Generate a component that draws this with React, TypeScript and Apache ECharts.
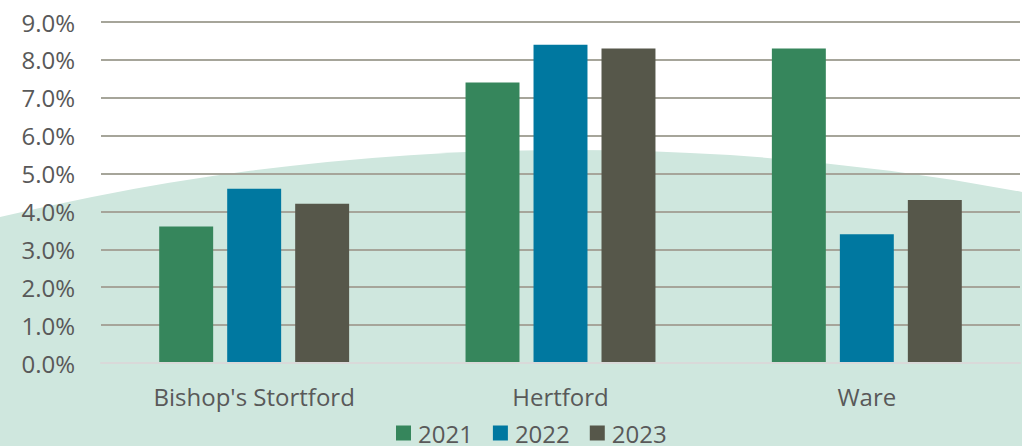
import React, { useEffect, useRef } from "react";
import * as echarts from "echarts";

const categories = ["Bishop's Stortford", "Hertford", "Ware"];
const seriesNames = ["2021", "2022", "2023"];
const values2021 = [3.6, 7.4, 8.3];
const values2022 = [4.6, 8.4, 3.4];
const values2023 = [4.2, 8.3, 4.3];
const colors = ["#36865c", "#0078a0", "#56574a"];

export default function App() {
  const ref = useRef<HTMLDivElement>(null);
  useEffect(() => {
    document.body.style.margin = "0";
    const chart = echarts.init(ref.current!, null, { renderer: "svg" });
    const data = [values2021, values2022, values2023];
    chart.setOption({
      animation: false,
      backgroundColor: "#ffffff",
      textStyle: { fontFamily: "Open Sans" },
      graphic: [
        {
          type: "circle",
          z: -10,
          silent: true,
          shape: { cx: 570, cy: 2600, r: 2450 },
          style: { fill: "#cfe7de" },
        },
      ],
      grid: { left: 101, right: 2, top: 22, bottom: 83, containLabel: false },
      legend: {
        top: 421,
        left: 396,
        padding: 0,
        itemWidth: 15,
        itemHeight: 15,
        itemGap: 20,
        icon: "rect",
        textStyle: { fontSize: 24, lineHeight: 24, color: "#595959", fontFamily: "Open Sans", padding: [0, 0, 0, 2] },
        data: seriesNames,
      },
      xAxis: {
        type: "category",
        data: categories,
        axisTick: { show: false },
        axisLine: { show: true, lineStyle: { color: "#d9d9d9", width: 2 } },
        axisLabel: { fontSize: 24, color: "#595959", margin: 21, fontFamily: "Open Sans" },
        z: 3,
      },
      yAxis: {
        type: "value",
        min: 0,
        max: 9,
        interval: 1,
        axisLine: { show: false },
        axisTick: { show: false },
        axisLabel: {
          fontSize: 24,
          color: "#595959",
          margin: 26,
          fontFamily: "Open Sans",
          formatter: (v: number) => v.toFixed(1) + "%",
        },
        splitLine: { lineStyle: { color: "#a6a59a", width: 2 } },
      },
      series: seriesNames.map((name, i) => ({
        name,
        type: "bar",
        data: data[i],
        barGap: "26%",
        barCategoryGap: "38%",
        itemStyle: { color: colors[i] },
      })),
    });
    return () => chart.dispose();
  }, []);
  return <div ref={ref} style={{ width: 1022, height: 446 }} />;
}
